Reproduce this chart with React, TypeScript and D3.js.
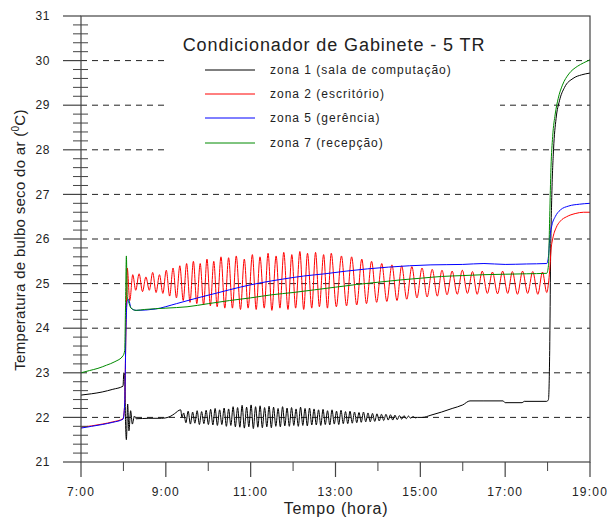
import React from "react";
import * as d3 from "d3";

// ---------- data ----------
const yTicks = [21, 22, 23, 24, 25, 26, 27, 28, 29, 30, 31];
const gridValues = [22, 23, 24, 25, 26, 27, 28, 29, 30];
const xMajorTicks = [7, 9, 11, 13, 15, 17, 19];
const xMajorLabels = ["7:00", "9:00", "11:00", "13:00", "15:00", "17:00", "19:00"];
const xMinorTicks = [8, 10, 12, 14, 16, 18];

const seriesNames = [
  "zona 1 (sala de computação)",
  "zona 2 (escritório)",
  "zona 5 (gerência)",
  "zona 7 (recepção)",
];
const seriesColors = ["#000000", "#ff0000", "#0000ff", "#008a00"];

// zona 1 – black
const blackStart: [number, number][] = [
  [7.0, 22.5], [7.25, 22.53], [7.5, 22.57], [7.75, 22.63], [7.99, 22.7],
  [8.01, 23.0], [8.03, 22.95], [8.05, 21.9], [8.07, 21.5], [8.1, 22.3],
  [8.13, 21.7], [8.17, 22.15], [8.21, 21.85], [8.26, 22.03], [8.3, 21.97],
  [8.6, 21.98], [8.9, 21.98], [9.1, 22.02], [9.2, 22.08], [9.35, 22.17], [9.38, 22.0],
];
const blackOscStart = 9.42;
const blackOscStep = 0.053;
const blackOscValues = [
  22.1, 21.88, 22.14, 21.85, 22.12, 21.87, 22.15, 21.84, 22.13, 21.86, 22.16, 21.84,
  22.18, 21.83, 22.2, 21.82, 22.17, 21.84, 22.21, 21.8, 22.19, 21.82,
  22.24, 21.79, 22.22, 21.78, 22.27, 21.76, 22.23, 21.79, 22.28, 21.75, 22.24, 21.78, 22.26, 21.77, 22.22, 21.79, 22.25, 21.77,
  22.23, 21.8, 22.2, 21.79, 22.24, 21.81, 22.21, 21.8, 22.22, 21.82, 22.19, 21.8, 22.23, 21.82, 22.2, 21.81, 22.21, 21.83,
  22.19, 21.83, 22.17, 21.82, 22.18, 21.84, 22.15, 21.83, 22.17, 21.85, 22.14, 21.84, 22.16, 21.86, 22.13, 21.86, 22.14, 21.87,
  22.12, 21.88, 22.11, 21.89, 22.12, 21.9, 22.1, 21.9, 22.09, 21.91,
  22.08, 21.92, 22.07, 21.93, 22.07, 21.94, 22.06, 21.94, 22.05, 21.95,
  22.04, 21.96, 22.04, 21.97, 22.03, 21.98, 22.02, 21.99, 22.0,
];
const blackEnd: [number, number][] = [
  [15.05, 22.0], [15.25, 22.05], [15.5, 22.12], [15.75, 22.2], [16.0, 22.28], [16.17, 22.37],
  [16.5, 22.37], [16.95, 22.37], [17.0, 22.33], [17.4, 22.33], [17.45, 22.36], [17.98, 22.36],
  [18.02, 22.4], [18.05, 23.5], [18.07, 25.5], [18.1, 27.0], [18.14, 28.0], [18.2, 28.7],
  [18.28, 29.1], [18.4, 29.4], [18.6, 29.6], [18.8, 29.68], [19.0, 29.72],
];

// zona 2 – red
const redData: [number, number][] = [
  [7.0, 21.78], [7.25, 21.81], [7.5, 21.85], [7.75, 21.9], [7.99, 21.97],
  [8.03, 22.3], [8.06, 24.0], [8.08, 24.9], [8.09, 25.35],
  [8.15, 24.62], [8.22, 25.2], [8.29, 24.85], [8.37, 25.22], [8.45, 24.82], [8.53, 25.15],
  [8.61, 24.85], [8.69, 25.25], [8.77, 24.8], [8.85, 25.2], [8.93, 24.78], [9.01, 25.3],
  [9.09, 24.72], [9.17, 25.35], [9.25, 24.68], [9.33, 25.4], [9.41, 24.62], [9.49, 25.45],
  [9.57, 24.58], [9.65, 25.5], [9.73, 24.55], [9.81, 25.45], [9.89, 24.52], [9.97, 25.55],
  [10.05, 24.5], [10.13, 25.5], [10.21, 24.48], [10.3, 25.6], [10.39, 24.45],
  [10.48, 25.58], [10.57, 24.45], [10.66, 25.62], [10.76, 24.42], [10.85, 25.55],
  [10.94, 24.45], [11.04, 25.65], [11.13, 24.42], [11.22, 25.6], [11.32, 24.45],
  [11.41, 25.68], [11.5, 24.4], [11.6, 25.62], [11.69, 24.45], [11.78, 25.7],
  [11.88, 24.42], [11.97, 25.65], [12.06, 24.45], [12.16, 25.72], [12.25, 24.42],
  [12.34, 25.68], [12.44, 24.45], [12.53, 25.7], [12.62, 24.48], [12.72, 25.65],
  [12.81, 24.45], [12.9, 25.68],
  [13.02, 24.48], [13.14, 25.62], [13.26, 24.5], [13.38, 25.6], [13.5, 24.52],
  [13.62, 25.55], [13.73, 24.55], [13.85, 25.5], [13.97, 24.58], [14.09, 25.45],
  [14.21, 24.6], [14.33, 25.42], [14.45, 24.62], [14.56, 25.4], [14.68, 24.65],
  [14.8, 25.38], [14.92, 24.68], [15.04, 25.35], [15.16, 24.7], [15.28, 25.32], [15.4, 24.72],
  [15.51, 25.3], [15.63, 24.75], [15.75, 25.28], [15.87, 24.76], [15.99, 25.3],
  [16.11, 24.78], [16.23, 25.27], [16.34, 24.76], [16.46, 25.28], [16.58, 24.78],
  [16.7, 25.26], [16.82, 24.77], [16.94, 25.28], [17.06, 24.78], [17.17, 25.27],
  [17.29, 24.76], [17.41, 25.28], [17.53, 24.78], [17.65, 25.27], [17.77, 24.76],
  [17.88, 25.26], [17.98, 24.8],
  [18.02, 25.0], [18.05, 25.3], [18.08, 25.75], [18.12, 26.0], [18.2, 26.25],
  [18.3, 26.4], [18.45, 26.5], [18.65, 26.57], [18.85, 26.6], [19.0, 26.6],
];

// zona 5 – blue
const blueData: [number, number][] = [
  [7.0, 21.76], [7.25, 21.8], [7.5, 21.84], [7.75, 21.89], [7.99, 21.96],
  [8.03, 22.3], [8.06, 24.0], [8.09, 24.6], [8.12, 24.65], [8.18, 24.45], [8.3, 24.4],
  [8.75, 24.43], [9.25, 24.55], [9.75, 24.68], [10.25, 24.8], [10.75, 24.92],
  [11.25, 25.02], [11.75, 25.1], [12.25, 25.17], [12.75, 25.22], [13.25, 25.28],
  [13.75, 25.33], [14.25, 25.37], [14.75, 25.4], [15.25, 25.42], [16.0, 25.43],
  [16.5, 25.45], [17.0, 25.43], [17.5, 25.44], [17.98, 25.45],
  [18.02, 25.6], [18.05, 26.0], [18.1, 26.3], [18.18, 26.5], [18.3, 26.65],
  [18.5, 26.74], [18.75, 26.78], [19.0, 26.8],
];

// zona 7 – green
const greenData: [number, number][] = [
  [7.0, 23.0], [7.2, 23.05], [7.4, 23.1], [7.6, 23.17], [7.8, 23.25], [7.99, 23.38],
  [8.03, 23.5], [8.05, 24.5], [8.07, 25.62], [8.09, 24.7], [8.12, 24.6], [8.18, 24.45],
  [8.3, 24.4], [8.5, 24.42], [9.0, 24.45], [9.5, 24.48], [10.0, 24.55], [10.5, 24.62],
  [11.0, 24.68], [11.5, 24.75], [12.0, 24.8], [12.5, 24.86], [13.0, 24.92], [13.5, 24.98],
  [14.0, 25.03], [14.5, 25.08], [15.0, 25.12], [15.5, 25.16], [16.0, 25.18], [16.5, 25.2],
  [17.0, 25.21], [17.5, 25.22], [17.98, 25.23],
  [18.02, 25.4], [18.05, 26.5], [18.08, 27.6], [18.12, 28.3], [18.18, 28.8], [18.25, 29.15],
  [18.35, 29.45], [18.5, 29.7], [18.7, 29.87], [18.85, 29.95], [19.0, 30.02],
];

// ---------- chart ----------
const W = 607;
const H = 518;
const FONT = "'Liberation Sans', Arial, sans-serif";

export default function App() {
  const x = d3.scaleLinear().domain([7, 19]).range([81, 590]);
  const y = d3.scaleLinear().domain([21, 31]).range([462, 16]);
  const line = d3
    .line<[number, number]>()
    .x((d) => x(d[0]))
    .y((d) => y(d[1]))
    .curve(d3.curveMonotoneX);

  const blackData: [number, number][] = [
    ...blackStart,
    ...blackOscValues.map((v, i) => [blackOscStart + i * blackOscStep, v] as [number, number]),
    ...blackEnd,
  ];
  const series = [blackData, redData, blueData, greenData];

  const minorY: number[] = [];
  for (let v = 21; v < 31; v++) for (let k = 1; k < 5; k++) minorY.push(v + k * 0.2);

  const legendRowsY = [70, 94, 118, 143];

  return (
    <svg
      width={W}
      height={H}
      style={{ position: "absolute", left: 0, top: 0, background: "#fff" }}
      fontFamily={FONT}
    >
      <rect x={0} y={0} width={W} height={H} fill="#fff" />
      {/* gridlines */}
      {gridValues.map((v) => (
        <line
          key={"g" + v}
          x1={x(7)}
          x2={x(19)}
          y1={y(v)}
          y2={y(v)}
          stroke="#222"
          strokeWidth={1}
          strokeDasharray="6,5"
        />
      ))}
      {/* legend background */}
      <rect x={166} y={22} width={334} height={136} fill="#fff" />
      {/* series */}
      {series.map((d, i) => (
        <path key={"s" + i} d={line(d) || ""} fill="none" stroke={seriesColors[i]} strokeWidth={1} />
      ))}
      {/* frame */}
      <rect x={x(7)} y={y(31)} width={x(19) - x(7)} height={y(21) - y(31)} fill="none" stroke="#444" strokeWidth={1.2} />
      {/* y ticks */}
      {yTicks.map((v) => (
        <g key={"yt" + v}>
          <line x1={63} x2={x(7)} y1={y(v)} y2={y(v)} stroke="#444" strokeWidth={1.2} />
          <text x={50} y={y(v)} dy="0.35em" textAnchor="end" fontSize={12} letterSpacing={0.6} fill="#222">
            {v}
          </text>
        </g>
      ))}
      {minorY.map((v, i) => (
        <line key={"ym" + i} x1={73} x2={88} y1={y(v)} y2={y(v)} stroke="#444" strokeWidth={1} />
      ))}
      {/* x ticks */}
      {xMajorTicks.map((t, i) => (
        <g key={"xt" + t}>
          <line x1={x(t)} x2={x(t)} y1={y(21)} y2={y(21) + 15} stroke="#444" strokeWidth={1.2} />
          <text x={x(t)} y={496} textAnchor="middle" fontSize={12} letterSpacing={1.2} fill="#222">
            {xMajorLabels[i]}
          </text>
        </g>
      ))}
      {xMinorTicks.map((t) => (
        <line key={"xm" + t} x1={x(t)} x2={x(t)} y1={y(21)} y2={y(21) + 9} stroke="#444" strokeWidth={1} />
      ))}
      {/* axis titles */}
      <text x={336} y={514} textAnchor="middle" fontSize={16} letterSpacing={0.8} fill="#222">
        Tempo (hora)
      </text>
      <text
        transform="translate(25,240) rotate(-90)"
        textAnchor="middle"
        fontSize={15}
        letterSpacing={0.3}
        fill="#222"
      >
        Temperatura de bulbo seco do ar (
        <tspan fontSize={10} dy={-6}>
          0
        </tspan>
        <tspan dy={6}>C)</tspan>
      </text>
      {/* title & legend */}
      <text x={334} y={51} textAnchor="middle" fontSize={18} letterSpacing={0.9} fill="#222">
        Condicionador de Gabinete - 5 TR
      </text>
      {seriesNames.map((name, i) => (
        <g key={"lg" + i}>
          <line x1={205} x2={255} y1={legendRowsY[i]} y2={legendRowsY[i]} stroke={seriesColors[i]} strokeWidth={1} />
          <text x={270} y={legendRowsY[i] + 4} fontSize={12} letterSpacing={1} fill="#222">
            {name}
          </text>
        </g>
      ))}
    </svg>
  );
}
